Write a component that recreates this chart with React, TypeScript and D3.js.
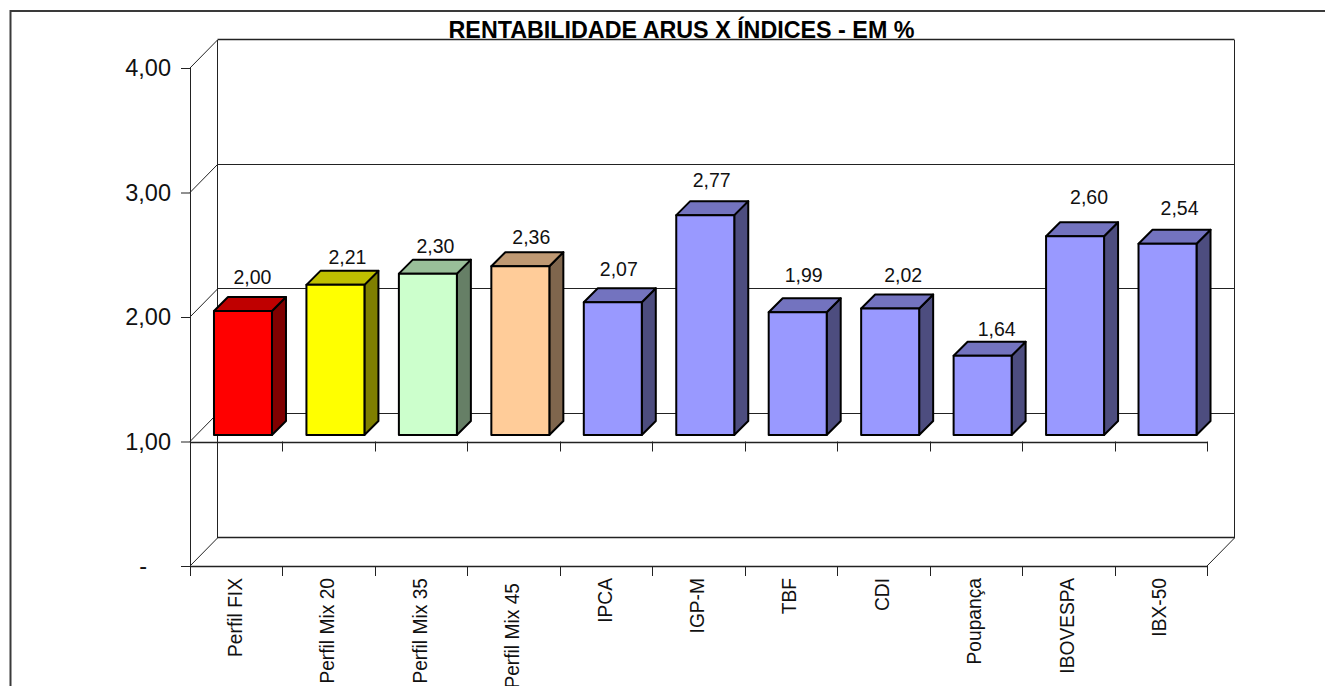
import React, {useEffect, useRef} from 'react';
import * as d3 from 'd3';

const categories = ['Perfil FIX', 'Perfil Mix 20', 'Perfil Mix 35', 'Perfil Mix 45', 'IPCA', 'IGP-M', 'TBF', 'CDI', 'Poupança', 'IBOVESPA', 'IBX-50'];
const values = [2.00, 2.21, 2.30, 2.36, 2.07, 2.77, 1.99, 2.02, 1.64, 2.60, 2.54];
const yTicks = [0, 1, 2, 3, 4];
const title = 'RENTABILIDADE ARUS X ÍNDICES - EM %';

const fills = ['#FF0000', '#FFFF00', '#CCFFCC', '#FFCC99', '#9999FF', '#9999FF', '#9999FF', '#9999FF', '#9999FF', '#9999FF', '#9999FF'];
const tops = ['#BF0000', '#BFBF00', '#99BF99', '#BF9973', '#7373BF', '#7373BF', '#7373BF', '#7373BF', '#7373BF', '#7373BF', '#7373BF'];
const sides = ['#7F0000', '#7F7F00', '#667F66', '#7F664D', '#4D4D7F', '#4D4D7F', '#4D4D7F', '#4D4D7F', '#4D4D7F', '#4D4D7F', '#4D4D7F'];

// the value labels sit a bit unevenly above the bars in the original
const labelDx = [9.5, 12, 7.5, 11, 6, 6.5, 6, 13, 14, 14, 12];
const labelDy = [-1, 5, 5, 4, 0, -2, -4, -1, 6, -6, -3];
const categoryDy = [0, 0, 0, 5, 0, 0, 0, 0, 0, 0, 0];

const font = '"Liberation Sans", Arial, sans-serif';
const fmt = (v: number) => v === 0 ? '-' : d3.format('.2f')(v).replace('.', ',');
const crisp = (v: number) => Math.floor(v - .5) + .5;

export default function App() {
    const svgRef = useRef<SVGSVGElement>(null);

    useEffect(() => {
        const svg = d3.select(svgRef.current);
        svg.selectAll('*').remove();

        const xL = 190, xR = 1207;
        const x = d3.scaleBand().domain(categories).range([xL, xR]);
        const y = d3.scaleLinear().domain([0, 4]).range([566, 68]);
        const depthX = 27.5, depthY = 28;
        const barW = 58, barDepth = 14, base = 1;
        const line = '#222';

        // outer frame, cut off by the window on the right and bottom
        svg.append('path')
            .attr('d', 'M10.5,686V11H1325')
            .attr('fill', 'none').attr('stroke', '#3a3a3a').attr('stroke-width', 2);

        // walls and gridlines
        const walls = svg.append('g').attr('stroke', line).attr('stroke-width', 1).attr('fill', 'none');
        walls.append('path').attr('d', `M${xL + .5},${y(4)}V${y(0)}`);
        walls.append('path').attr('d', `M${xL + depthX},${y(4) - depthY}V${y(0) - depthY}`);
        walls.append('path').attr('d', `M${xR + depthX},${y(4) - depthY}V${y(0) - depthY}`);
        walls.append('path').attr('d', `M${xR},${y(0)}L${xR + depthX},${y(0) - depthY}`);
        yTicks.forEach(t => {
            walls.append('path').attr('d', `M${xL},${y(t)}L${xL + depthX},${y(t) - depthY}`);
            walls.append('path').attr('d', `M${xL + depthX},${crisp(y(t) - depthY)}H${xR + depthX}`)
                .attr('stroke-width', t === 0 || t === 4 ? 1.4 : 1);
        });

        // y axis
        const yAxis = svg.append('g').attr('transform', `translate(${xL},0)`)
            .call(d3.axisLeft(y).tickValues(yTicks).tickFormat(d => fmt(+d)).tickSize(9).tickPadding(10));
        yAxis.select('.domain').remove();
        yAxis.selectAll('line').attr('stroke', line);
        yAxis.selectAll('text').attr('font-family', font).attr('font-size', 23.5).attr('fill', '#111')
            .filter(d => d === 0).attr('x', -43);

        // x axes: one on the zero floor with labels, one where the bars stand
        const xScaleTicks = d3.range(categories.length + 1).map(i => xL + i * x.step());
        [0, base].forEach(v => {
            const g = svg.append('g').attr('stroke', line);
            g.append('line').attr('x1', xL).attr('x2', xR).attr('y1', Math.round(y(v)) + .5).attr('y2', Math.round(y(v)) + .5)
                .attr('stroke-width', 1.4);
            g.selectAll('line.tick').data(xScaleTicks).join('line').attr('class', 'tick')
                .attr('x1', d => Math.round(d) + .5).attr('x2', d => Math.round(d) + .5)
                .attr('y1', y(v)).attr('y2', y(v) + 10);
        });

        svg.append('g').selectAll('text').data(categories).join('text')
            .attr('transform', (d, i) => `translate(${x(d)! + x.bandwidth() / 2 + 5.5},${578 + categoryDy[i]}) rotate(-90) scale(1,1.09)`)
            .attr('text-anchor', 'end')
            .attr('font-family', font).attr('font-size', 19.2).attr('fill', '#111')
            .text(d => d);

        // bars
        const bars = svg.append('g').selectAll('g').data(categories).join('g')
            .attr('stroke', '#000').attr('stroke-width', 2).attr('stroke-linejoin', 'round');
        const left = (d: string) => x(d)! + (x.step() - barW) / 2 + 6.75;
        const top = (i: number) => y(values[i]) - 6;
        const bottom = y(base) - 6.5;
        bars.append('path')
            .attr('fill', (_, i) => sides[i])
            .attr('d', (d, i) => {
                const r = left(d) + barW;
                return `M${r},${top(i)}l${barDepth},${-barDepth}V${bottom - barDepth}L${r},${bottom}Z`;
            });
        bars.append('path')
            .attr('fill', (_, i) => tops[i])
            .attr('d', (d, i) => `M${left(d)},${top(i)}l${barDepth},${-barDepth}h${barW}l${-barDepth},${barDepth}Z`);
        bars.append('rect')
            .attr('fill', (_, i) => fills[i])
            .attr('x', d => left(d)).attr('width', barW)
            .attr('y', (_, i) => top(i)).attr('height', (_, i) => bottom - top(i));

        svg.append('g').selectAll('text').data(categories).join('text')
            .attr('x', (d, i) => left(d) + barW / 2 + labelDx[i])
            .attr('y', (_, i) => top(i) - barDepth - 12 + labelDy[i])
            .attr('text-anchor', 'middle')
            .attr('font-family', font).attr('font-size', 19.5).attr('fill', '#111')
            .text((_, i) => fmt(values[i]));

        svg.append('text')
            .attr('x', 681.5).attr('y', 38)
            .attr('text-anchor', 'middle')
            .attr('font-family', font).attr('font-size', 23.3).attr('font-weight', 'bold').attr('fill', '#000')
            .text(title);
    }, []);

    return <svg ref={svgRef} width={1325} height={686} style={{position: 'absolute', left: 0, top: 0, background: '#fff'}}/>;
}
